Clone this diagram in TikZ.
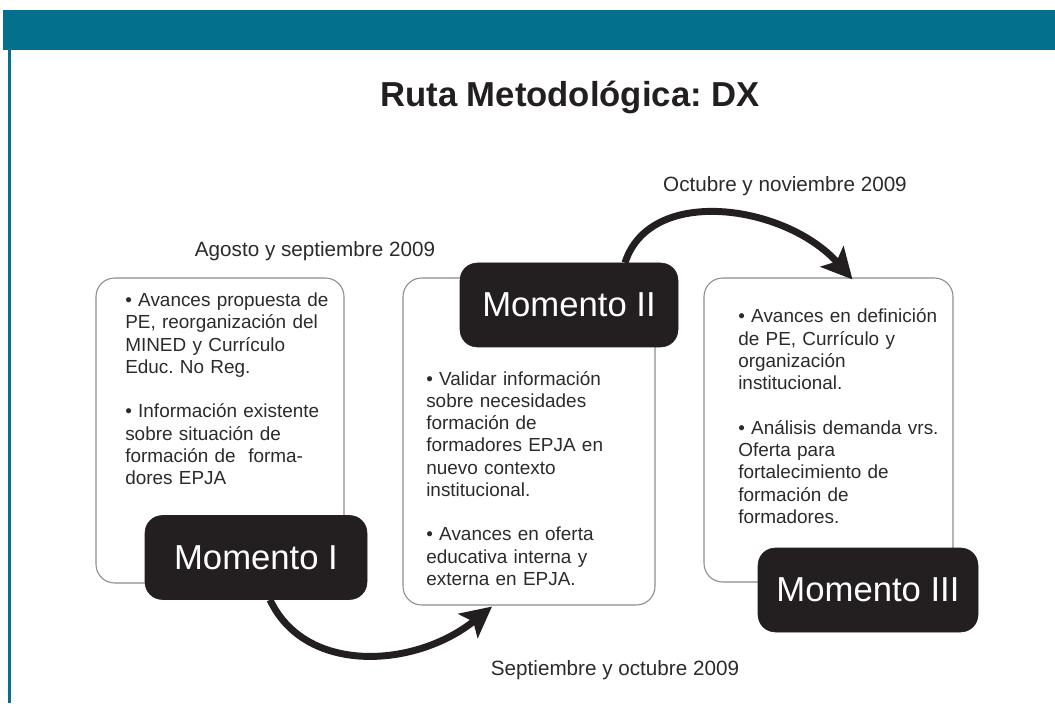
\documentclass[tikz,border=0pt]{standalone}
\usepackage{fontspec}
\setmainfont{Liberation Sans}
\usetikzlibrary{arrows.meta,calc}
\definecolor{teal1}{HTML}{03708E}
\definecolor{ink}{HTML}{231F20}
\definecolor{txt}{HTML}{2B2B2B}
\definecolor{boxgray}{HTML}{8C8C8C}
\frenchspacing
\begin{document}
\begin{tikzpicture}[x=0.75pt,y=-0.75pt,
  card/.style={draw=boxgray, line width=0.8pt, rounded corners=14pt, fill=white, inner sep=0pt},
  moment/.style={fill=ink, draw=ink, rounded corners=13pt, inner sep=0pt, text=white,
    font=\fontsize{26}{30}\selectfont, minimum height=63pt},
  bodytext/.style={anchor=base west, inner sep=0pt, text width=220pt, align=left, text=txt,
    font=\fontsize{14.2}{16.7}\selectfont},
  datelabel/.style={anchor=base, inner sep=0pt, text=txt, font=\fontsize{15.5}{18}\selectfont},
  bigarrow/.style={line width=5.2pt, draw=ink, -{Stealth[length=23pt,width=23pt,inset=5pt]}}]
\useasboundingbox (0,0) rectangle (1055,712);
\fill[white] (0,0) rectangle (1055,712);
% header
\fill[teal1] (3,10) rectangle (1055,50);
\fill[teal1] (8,50) rectangle (11,703);
\node[anchor=base, inner sep=0pt, text=ink, font=\bfseries\fontsize{26}{30}\selectfont] (title) at (570,107) {Ruta Metodológica: DX};
% white cards
\node[card, minimum width=186pt, minimum height=228.75pt] (box1) at (220,430.5) {};
\node[card, minimum width=189pt, minimum height=245.25pt] (box2) at (529,441.5) {};
\node[card, minimum width=186.75pt, minimum height=228pt] (box3) at (828.5,430) {};
% body texts
\node[bodytext] (t1) at (125,306.5) {• Avances propuesta de\\
PE, reorganización del\\
MINED y Currículo\\
Educ. No Reg.\\[16.7pt]
• Información existente\\
sobre situación de\\
formación de\ \ forma-\\
dores EPJA};
\node[bodytext] (t2) at (426,385) {• Validar información\\
sobre necesidades\\
formación de\\
formadores EPJA en\\
nuevo contexto\\
institucional.\\[16.7pt]
• Avances en oferta\\
educativa interna y\\
externa en EPJA.};
\node[bodytext] (t3) at (738,323) {• Avances en definición\\
de PE, Currículo y\\
organización\\
institucional.\\[16.7pt]
• Análisis demanda vrs.\\
Oferta para\\
fortalecimiento de\\
formación de\\
formadores.};
% black moment boxes
\node[moment, minimum width=166.5pt] (m1) at (256,557.5) {Momento I};
\node[moment, minimum width=163.5pt] (m2) at (569,305) {Momento II};
\node[moment, minimum width=165pt] (m3) at (868,590) {Momento III};
% date labels
\node[datelabel] (d1) at (315,257) {Agosto y septiembre 2009};
\node[datelabel] (d2) at (785,192) {Octubre y noviembre 2009};
\node[datelabel] (d3) at (615,675) {Septiembre y octubre 2009};
% arrows
\draw[bigarrow] ($(m1.south)+(14,0)$) .. controls +(35,75) and +(-77,62) .. ($(box2.south)+(-37,1)$);
\draw[bigarrow] ($(m2.north)+(56,0)$) .. controls +(25,-78) and +(-67,-75) .. ($(box3.north)+(24,2)$);
\end{tikzpicture}
\end{document}
